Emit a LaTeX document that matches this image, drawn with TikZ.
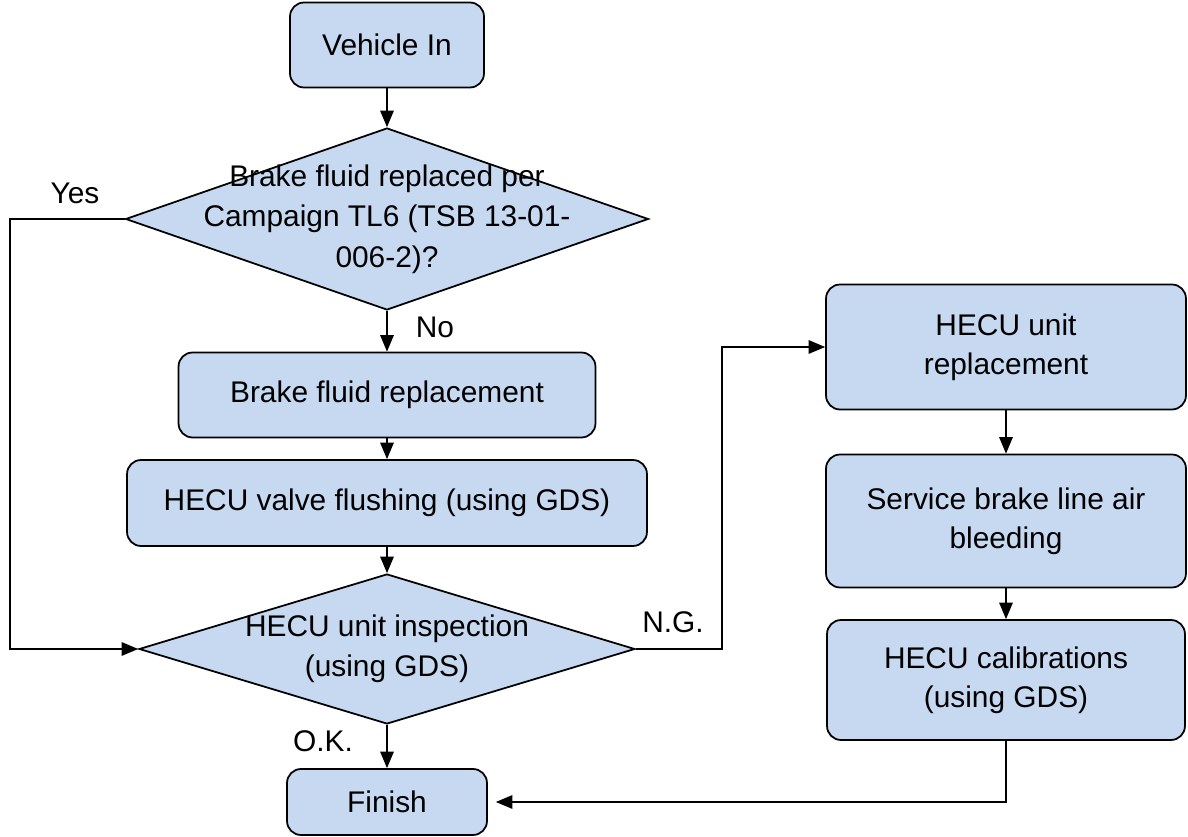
\documentclass[tikz,border=0pt]{standalone}
\usepackage{fontspec}
\setmainfont{Liberation Sans}
\usetikzlibrary{arrows, arrows.meta, shapes.geometric}
\definecolor{boxblue}{RGB}{198,217,241}

\begin{document}
\begin{tikzpicture}[x=0.02cm, y=-0.02cm,
  stepbox/.style={draw, line width=1pt, rounded corners=0.28cm, fill=boxblue, align=center, font=\fontsize{17}{22}\selectfont, inner sep=0pt},
  decision/.style={draw, line width=1pt, diamond, fill=boxblue, inner sep=0pt},
  txt/.style={align=center, font=\fontsize{17}{23}\selectfont, inner sep=0pt},
  flow/.style={line width=0.8pt, -{Triangle[length=0.33cm, width=0.27cm]}},
  ]
\useasboundingbox (0,0) rectangle (1188,837);
%left column
\node[stepbox, minimum width=3.88cm, minimum height=1.7cm] (vin) at (387,45) {Vehicle In};
\node[decision, minimum width=10.46cm, minimum height=3.64cm,
  label={[txt]center:{Brake fluid replaced per\\Campaign TL6 (TSB 13-01-\\006-2)?}}] (chk) at (387,219) {};
\node[stepbox, minimum width=8.34cm, minimum height=1.7cm] (bfr) at (387,395) {Brake fluid replacement};
\node[stepbox, minimum width=10.4cm, minimum height=1.72cm] (flush) at (387,503) {HECU valve flushing (using GDS)};
\node[decision, minimum width=9.92cm, minimum height=3cm,
  label={[txt]center:{HECU unit inspection\\(using GDS)}}] (insp) at (387,649) {};
\node[stepbox, minimum width=4cm, minimum height=1.32cm] (fin) at (387,802) {Finish};
%right column
\node[stepbox, minimum width=7.2cm, minimum height=2.5cm] (repl) at (1006,347) {HECU unit\\replacement};
\node[stepbox, minimum width=7.2cm, minimum height=2.66cm] (bleed) at (1006,521) {Service brake line air\\bleeding};
\node[stepbox, minimum width=7.16cm, minimum height=2.4cm] (calib) at (1006,680) {HECU calibrations\\(using GDS)};
%labels
\node[txt] (yes) at (75,193) {Yes};
\node[txt] (no) at (435,327) {No};
\node[txt] (ng) at (673,622) {N.G.};
\node[txt] (ok) at (323,741) {O.K.};
\coordinate (yesturn) at (10,219);
\coordinate (ngturn) at (722,649);
%connectors
\draw[flow] (vin) -- (chk);
\draw[flow] (chk) -- (bfr);
\draw[flow] (bfr) -- (flush);
\draw[flow] (flush) -- (insp);
\draw[flow] (insp) -- (fin);
\draw[flow] (chk.west) -- (yesturn) |- (insp.west);
\draw[flow] (insp.east) -- (ngturn) |- (repl.west);
\draw[flow] (repl) -- (bleed);
\draw[flow] (bleed) -- (calib);
\draw[flow] (calib.south) |- ([xshift=0.16cm]fin.east);
\end{tikzpicture}
\end{document}
